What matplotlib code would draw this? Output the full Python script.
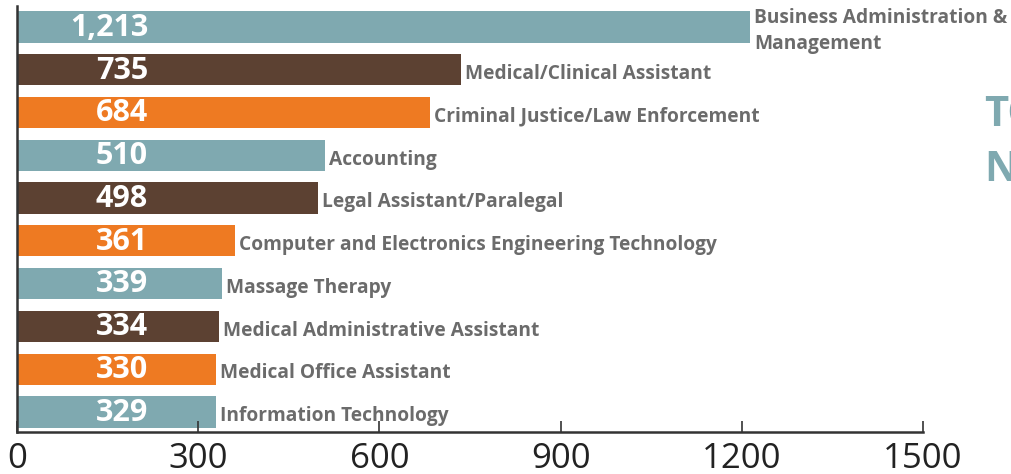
import matplotlib.pyplot as plt

# data
programs = [
    'Business Administration &\nManagement',
    'Medical/Clinical Assistant',
    'Criminal Justice/Law Enforcement',
    'Accounting',
    'Legal Assistant/Paralegal',
    'Computer and Electronics Engineering Technology',
    'Massage Therapy',
    'Medical Administrative Assistant',
    'Medical Office Assistant',
    'Information Technology',
]
counts = [1213, 735, 684, 510, 498, 361, 339, 334, 330, 329]
ticks = [0, 300, 600, 900, 1200, 1500]

teal, brown, orange = '#7FA9B0', '#5C4132', '#EE7A22'
bar_colors = [teal, brown, orange] * 3 + [teal]

plt.rcParams['font.family'] = ['Open Sans', 'DejaVu Sans']

fig = plt.figure(figsize=(10.11, 4.74), dpi=100)
ax = fig.add_axes([17 / 1011, 1 - 432 / 474, (923 - 17) / 1011, (432 - 6) / 474])

y = list(range(len(counts)))
ax.barh(y, counts, height=0.73, color=bar_colors)

for yi, v, name in zip(y, counts, programs):
    ax.text(217, yi + 0.02, f'{v:,}', ha='right', va='center',
            color='white', fontsize=22, fontweight='bold')
    ax.annotate(name, (v, yi + 0.1), xytext=(3, 0), textcoords='offset points',
                ha='left', va='center', color='#6B6B6B', fontsize=13.8,
                fontweight='bold', linespacing=1.4)

ax.set_xlim(0, 1500)
ax.set_ylim(9.47, -0.49)
ax.set_xticks(ticks)
ax.set_xticklabels([str(t) for t in ticks], fontsize=25, color='#222222')
ax.set_yticks([])
ax.tick_params(axis='x', direction='in', length=8, width=1.2, pad=7, color='#333333')
for s in ['top', 'right']:
    ax.spines[s].set_visible(False)
for s in ['left', 'bottom']:
    ax.spines[s].set_linewidth(1.8)
    ax.spines[s].set_color('#333333')

# title fragments cut off at the right edge, as in the reference
fig.text(984 / 1011, 1 - 115 / 474, 'TO', color=teal, fontsize=30,
         fontweight='bold', ha='left', va='center')
fig.text(984 / 1011, 1 - 170 / 474, 'N', color=teal, fontsize=30,
         fontweight='bold', ha='left', va='center')

fig.savefig('out.png', dpi=100)
